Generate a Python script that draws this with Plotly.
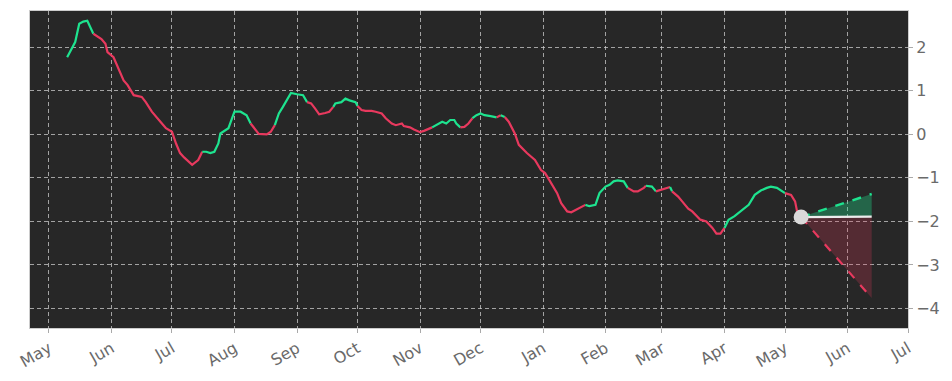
import plotly.graph_objects as go

dates = [
    "2022-05-10", "2022-05-12", "2022-05-14", "2022-05-16", "2022-05-18", "2022-05-20", "2022-05-21", "2022-05-23",
    "2022-05-27", "2022-05-29", "2022-05-30", "2022-06-02", "2022-06-04", "2022-06-07", "2022-06-09", "2022-06-12",
    "2022-06-16", "2022-06-18", "2022-06-21", "2022-06-23", "2022-06-26", "2022-06-28", "2022-07-01", "2022-07-03",
    "2022-07-05", "2022-07-07", "2022-07-11", "2022-07-14", "2022-07-16", "2022-07-18", "2022-07-20", "2022-07-22",
    "2022-07-24", "2022-07-25", "2022-07-29", "2022-08-01", "2022-08-04", "2022-08-07", "2022-08-09", "2022-08-11",
    "2022-08-13", "2022-08-17", "2022-08-19", "2022-08-21", "2022-08-23", "2022-08-25", "2022-08-27", "2022-08-29",
    "2022-09-01", "2022-09-04", "2022-09-06", "2022-09-08", "2022-09-10", "2022-09-12", "2022-09-15", "2022-09-17",
    "2022-09-19", "2022-09-20", "2022-09-23", "2022-09-25", "2022-09-27", "2022-09-30", "2022-10-01", "2022-10-03",
    "2022-10-05", "2022-10-08", "2022-10-10", "2022-10-13", "2022-10-15", "2022-10-18", "2022-10-20", "2022-10-23",
    "2022-10-24", "2022-10-27", "2022-10-29", "2022-11-01", "2022-11-03", "2022-11-07", "2022-11-10", "2022-11-12",
    "2022-11-14", "2022-11-16", "2022-11-18", "2022-11-19", "2022-11-21", "2022-11-23", "2022-11-25", "2022-11-27",
    "2022-11-29", "2022-12-01", "2022-12-03", "2022-12-06", "2022-12-09", "2022-12-11", "2022-12-13", "2022-12-15",
    "2022-12-18", "2022-12-20", "2022-12-24", "2022-12-28", "2022-12-31", "2023-01-02", "2023-01-04", "2023-01-08",
    "2023-01-10", "2023-01-13", "2023-01-15", "2023-01-18", "2023-01-22", "2023-01-24", "2023-01-27", "2023-01-29",
    "2023-02-01", "2023-02-03", "2023-02-05", "2023-02-07", "2023-02-10", "2023-02-12", "2023-02-15", "2023-02-17",
    "2023-02-20", "2023-02-21", "2023-02-24", "2023-02-26", "2023-03-01", "2023-03-03", "2023-03-05", "2023-03-06",
    "2023-03-09", "2023-03-11", "2023-03-14", "2023-03-16", "2023-03-20", "2023-03-23", "2023-03-26", "2023-03-28",
    "2023-03-30", "2023-04-01", "2023-04-03", "2023-04-06", "2023-04-09", "2023-04-13", "2023-04-16", "2023-04-19",
    "2023-04-22", "2023-04-24", "2023-04-27", "2023-04-29", "2023-05-01", "2023-05-04", "2023-05-06", "2023-05-07",
    "2023-05-09",
]

values = [
    1.77, 1.93, 2.12, 2.54, 2.59, 2.61, 2.50, 2.31,
    2.19, 2.08, 1.89, 1.77, 1.54, 1.24, 1.13, 0.90,
    0.86, 0.74, 0.52, 0.42, 0.25, 0.14, 0.06, -0.21,
    -0.43, -0.53, -0.70, -0.59, -0.40, -0.40, -0.43, -0.40,
    -0.21, 0.02, 0.14, 0.52, 0.52, 0.44, 0.25, 0.14,
    0.01, 0.00, 0.06, 0.21, 0.48, 0.63, 0.78, 0.95,
    0.92, 0.90, 0.74, 0.71, 0.59, 0.46, 0.49, 0.52,
    0.63, 0.71, 0.74, 0.82, 0.78, 0.74, 0.65, 0.56,
    0.54, 0.54, 0.52, 0.48, 0.37, 0.25, 0.21, 0.25,
    0.19, 0.16, 0.11, 0.05, 0.08, 0.16, 0.25, 0.29,
    0.25, 0.33, 0.33, 0.25, 0.16, 0.17, 0.25, 0.37,
    0.44, 0.48, 0.44, 0.42, 0.39, 0.44, 0.40, 0.29,
    0.02, -0.24, -0.43, -0.59, -0.82, -0.89, -1.04, -1.35,
    -1.58, -1.77, -1.79, -1.71, -1.62, -1.65, -1.62, -1.35,
    -1.20, -1.16, -1.08, -1.06, -1.08, -1.23, -1.31, -1.31,
    -1.23, -1.18, -1.20, -1.31, -1.27, -1.23, -1.21, -1.31,
    -1.43, -1.54, -1.71, -1.77, -1.96, -2.00, -2.15, -2.28,
    -2.28, -2.15, -1.96, -1.88, -1.77, -1.62, -1.39, -1.29,
    -1.23, -1.20, -1.23, -1.29, -1.35, -1.39, -1.54, -1.77,
    -1.90,
]

# trend of the segment ending at each point (u = green, d = red); first entry unused
trend = list(
    "-uuuuuuu"
    "dddddddd"
    "dddddddd"
    "ddddduuu"
    "uuuuuuud"
    "dddduuuu"
    "uuuddddd"
    "duuuuuud"
    "dddddddd"
    "dddddduu"
    "uuuuuddd"
    "uuuuudud"
    "dddddddd"
    "ddddduuu"
    "uuuuuudd"
    "dduudddu"
    "dddddddd"
    "dduuuuuu"
    "uuuuuddd"
    "d"
)

fc_dates = ["2023-05-09", "2023-06-13"]
fc_upper = [-1.90, -1.37]
fc_mid = [-1.90, -1.89]
fc_lower = [-1.90, -3.76]

month_ticks = ["2022-05-01", "2022-06-01", "2022-07-01", "2022-08-01", "2022-09-01", "2022-10-01",
               "2022-11-01", "2022-12-01", "2023-01-01", "2023-02-01", "2023-03-01", "2023-04-01",
               "2023-05-01", "2023-06-01", "2023-07-01"]
month_labels = ["May", "Jun", "Jul", "Aug", "Sep", "Oct", "Nov", "Dec", "Jan", "Feb", "Mar", "Apr",
                "May", "Jun", "Jul"]
y_ticks = [2, 1, 0, -1, -2, -3, -4]
y_labels = ["2", "1", "0", "\u22121", "\u22122", "\u22123", "\u22124"]

GREEN = "#1ee38f"
RED = "#e8395e"

fig = go.Figure()

# forecast fills
fig.add_trace(go.Scatter(
    x=[fc_dates[0], fc_dates[1], fc_dates[1], fc_dates[0]],
    y=[fc_mid[0], fc_upper[1], fc_mid[1], fc_mid[0]],
    fill="toself", fillcolor="rgba(30,227,143,0.33)", line=dict(width=0),
    mode="lines", hoverinfo="skip", showlegend=False))
fig.add_trace(go.Scatter(
    x=[fc_dates[0], fc_dates[1], fc_dates[1], fc_dates[0]],
    y=[fc_mid[0], fc_mid[1], fc_lower[1], fc_lower[0]],
    fill="toself", fillcolor="rgba(232,57,94,0.24)", line=dict(width=0),
    mode="lines", hoverinfo="skip", showlegend=False))

# colored history segments
n = len(values)
i = 1
while i < n:
    t = trend[i]
    j = i
    while j + 1 < n and trend[j + 1] == t:
        j += 1
    fig.add_trace(go.Scatter(
        x=dates[i - 1:j + 1], y=values[i - 1:j + 1], mode="lines",
        line=dict(color=GREEN if t == "u" else RED, width=2.2),
        showlegend=False, hoverinfo="skip"))
    i = j + 1

# forecast lines
fig.add_trace(go.Scatter(x=fc_dates, y=fc_mid, mode="lines",
                         line=dict(color="#ececec", width=2.2), showlegend=False))
fig.add_trace(go.Scatter(x=fc_dates, y=fc_upper, mode="lines",
                         line=dict(color=GREEN, width=2.4, dash="dash"), showlegend=False))
fig.add_trace(go.Scatter(x=fc_dates, y=fc_lower, mode="lines",
                         line=dict(color=RED, width=2.2, dash="dash"), showlegend=False))
fig.add_trace(go.Scatter(x=[dates[-1]], y=[values[-1]], mode="markers",
                         marker=dict(color="#d9d9d9", size=15), showlegend=False))

grid_kw = dict(showgrid=True, gridcolor="rgba(205,205,205,0.75)", griddash="4px,3px", gridwidth=0.8)

fig.update_layout(
    width=952, height=381,
    margin=dict(l=30, r=44, t=10, b=52),
    paper_bgcolor="white", plot_bgcolor="#272727",
    font=dict(family="DejaVu Sans", color="#666666", size=15),
    xaxis=dict(
        range=["2022-04-21 14:00", "2023-07-01"],
        tickvals=month_ticks, ticktext=month_labels, tickangle=-30,
        ticks="outside", ticklen=4, tickcolor="#aaaaaa",
        showline=True, linecolor="#cccccc", linewidth=1, mirror=True,
        zeroline=False, tickfont=dict(size=16, color="#6a6a6a"),
        **grid_kw,
    ),
    yaxis=dict(
        range=[-4.448, 2.833], side="right",
        tickvals=y_ticks, ticktext=y_labels,
        ticks="outside", ticklen=4, tickcolor="#aaaaaa",
        showline=True, linecolor="#cccccc", linewidth=1, mirror=True,
        zeroline=False, tickfont=dict(size=16, color="#6a6a6a"),
        **grid_kw,
    ),
)

fig.write_html("out.html", config={"displayModeBar": False},
               post_script="document.body.style.margin='0px';")
